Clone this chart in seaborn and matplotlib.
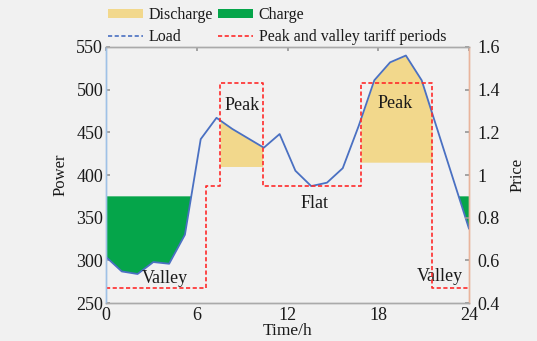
import numpy as np
import pandas as pd
import matplotlib
matplotlib.use("Agg")
import matplotlib.pyplot as plt
from matplotlib.lines import Line2D
from matplotlib.patches import Patch
import seaborn as sns

# ---- data ----
load = [304, 287, 284, 298, 296, 330, 442, 467, 454, 443, 432, 448,
        405, 387, 391, 408, 457, 511, 532, 540, 511, 453, 395, 337]
hours = list(np.linspace(0, 24, len(load)))
tariff_edges = [0, 6.6, 7.55, 10.35, 16.85, 21.55, 24]
tariff_levels = [0.47, 0.95, 1.43, 0.95, 1.43, 0.47]
charge_level = 375
discharge_levels = [410, 415]
peak_periods = [(7.55, 10.35), (16.85, 21.55)]
xticks = [0, 6, 12, 18, 24]
yticks_left = [250, 300, 350, 400, 450, 500, 550]
yticks_right = [0.4, 0.6, 0.8, 1.0, 1.2, 1.4, 1.6]
yticklabels_right = ["0.4", "0.6", "0.8", "1", "1.2", "1.4", "1.6"]

BG = "#f1f1f1"
YEL = "#f2d88c"
GRN = "#05a54a"
BLUE = "#4a70c2"
RED = "#ff2a2a"
TXT = "#1a1a1a"
FS_TICK = 13
FS_TEXT = 13

sns.set_theme(style="white")
plt.rcParams["font.family"] = ["Liberation Serif", "DejaVu Serif"]
plt.rcParams["xtick.direction"] = "in"
plt.rcParams["ytick.direction"] = "in"

fig = plt.figure(figsize=(5.37, 3.41), dpi=100, facecolor=BG)
ax = fig.add_axes([0.1974, 0.1114, 0.8734 - 0.1974, 0.8622 - 0.1114])
ax.set_facecolor(BG)

df = pd.DataFrame({"Time": hours, "Load": load})

# fills
xs = np.linspace(0, 24, 4801)
ys = np.interp(xs, hours, load)
for (a, b), lvl in zip(peak_periods, discharge_levels):
    m = (xs >= a) & (xs <= b) & (ys > lvl)
    ax.fill_between(xs, lvl, ys, where=m, color=YEL, linewidth=0, zorder=1)
mc = (ys < charge_level) & ((xs <= tariff_edges[1]) | (xs >= tariff_edges[5]))
ax.fill_between(xs, ys, charge_level, where=mc, color=GRN, linewidth=0, zorder=1)

sns.lineplot(data=df, x="Time", y="Load", ax=ax, color=BLUE, linewidth=1.3, zorder=3)

ax.set_xlim(0, 24)
ax.set_ylim(250, 550)
ax.set_xticks(xticks)
ax.set_yticks(yticks_left)
ax.tick_params(axis="x", labelsize=FS_TICK, length=3, colors="#999999",
               labelcolor=TXT, top=True, pad=3)
ax.tick_params(axis="y", labelsize=FS_TICK, length=3, colors="#999999",
               labelcolor=TXT, pad=2)
ax.set_xlabel("Time/h", fontsize=12.5, labelpad=-1, color=TXT)
ax.set_ylabel("Power", fontsize=12, labelpad=6, color=TXT)

ax2 = ax.twinx()
tx = []
ty = []
for i, lv in enumerate(tariff_levels):
    tx += [tariff_edges[i], tariff_edges[i + 1]]
    ty += [lv, lv]
pdf = pd.DataFrame({"t": tx, "p": ty})
ax2.plot(pdf["t"], pdf["p"], color=RED, linestyle=(0, (2.5, 1.5)), linewidth=1.2, zorder=2)
ax2.set_ylim(0.4, 1.6)
ax2.set_yticks(yticks_right)
ax2.set_yticklabels(yticklabels_right)
ax2.tick_params(axis="y", labelsize=FS_TICK, length=3, colors="#999999",
                labelcolor=TXT, pad=6)
ax2.set_ylabel("Price", fontsize=12, labelpad=7, color=TXT)

for a_ in (ax, ax2):
    a_.spines["top"].set_color("#aaaaaa")
    a_.spines["bottom"].set_color("#aaaaaa")
    a_.spines["left"].set_color("#9fc1e6")
    a_.spines["right"].set_color("#e9b49c")
    for s in a_.spines.values():
        s.set_linewidth(1.0)

# annotations
txt_kw = dict(fontsize=FS_TEXT, color=TXT, ha="center", va="center")
ax.text(9.0, 482, "Peak", **txt_kw)
ax.text(19.1, 484, "Peak", **txt_kw)
ax.text(13.8, 367, "Flat", **txt_kw)
ax.text(3.9, 279, "Valley", **txt_kw)
ax.text(22.1, 281, "Valley", **txt_kw)

handles = [
    Patch(facecolor=YEL, edgecolor="none", label="Discharge"),
    Line2D([0], [0], color=BLUE, linestyle=(0, (2.5, 1.5)), linewidth=1.2, label="Load"),
    Patch(facecolor=GRN, edgecolor="none", label="Charge"),
    Line2D([0], [0], color=RED, linestyle=(0, (2.5, 1.5)), linewidth=1.2,
           label="Peak and valley tariff periods"),
]
leg = fig.legend(handles=handles, ncol=2, loc="upper left",
                 bbox_to_anchor=(108 / 537, 1 - 7 / 341),
                 frameon=False, fontsize=11.5, handlelength=2.2, handleheight=0.5,
                 columnspacing=0.3, labelspacing=0.38, handletextpad=0.35,
                 borderpad=0, borderaxespad=0)
for t in leg.get_texts():
    t.set_color(TXT)

fig.savefig("out.png", dpi=100, facecolor=BG)
